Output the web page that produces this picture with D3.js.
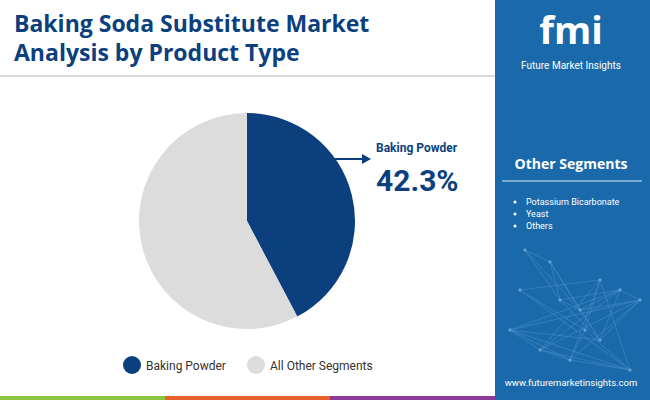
<!DOCTYPE html><html><head><meta charset="utf-8"><script src="https://cdn.jsdelivr.net/npm/d3@7"></script>
<style>body{margin:0}svg{font-family:Roboto,sans-serif}</style></head><body><svg id="c" width="650" height="400"></svg>
<script>
const categories=["Baking Powder","All Other Segments"];
const values=[42.3,57.7];
const colors=["#0b3f7e","#dcdcdc"];
const otherSegments=["Potassium Bicarbonate","Yeast","Others"];
const svg=d3.select("#c");
svg.append("rect").attr("width",650).attr("height",400).attr("fill","#fff");
svg.append("text").attr("x",14).attr("y",32).attr("font-size",23).attr("font-weight",700).attr("fill","#0b3f7e").attr("font-family","'Open Sans',sans-serif").text("Baking Soda Substitute Market");
svg.append("text").attr("x",14).attr("y",61).attr("font-size",23).attr("font-weight",700).attr("fill","#0b3f7e").attr("font-family","'Open Sans',sans-serif").text("Analysis by Product Type");
svg.append("line").attr("x1",0).attr("x2",495).attr("y1",76).attr("y2",76).attr("stroke","#ccc").attr("stroke-width",1.5);
svg.append("rect").attr("x",495).attr("y",0).attr("width",155).attr("height",400).attr("fill","#1a6aab");
const pts=[[525,250],[550,262],[560,300],[580,310],[600,340],[620,290],[640,300],[510,330],[540,350],[570,360],[630,370],[600,280],[585,330],[520,290]];
const net=svg.append("g").attr("stroke","#5b9bd0").attr("stroke-width",0.6).attr("opacity",0.7);
pts.forEach((p,i)=>pts.slice(i+1,i+4).forEach(q=>net.append("line").attr("x1",p[0]).attr("y1",p[1]).attr("x2",q[0]).attr("y2",q[1])));
pts.forEach(p=>net.append("circle").attr("cx",p[0]).attr("cy",p[1]).attr("r",1.5).attr("fill","#8fc0e8"));
svg.append("text").attr("x",571).attr("y",44).attr("text-anchor","middle").attr("font-size",38).attr("font-weight",700).attr("fill","#fff").attr("font-family","'Open Sans',sans-serif").text("fmi");
svg.append("text").attr("x",571).attr("y",69).attr("text-anchor","middle").attr("font-size",10).attr("fill","#fff").text("Future Market Insights");
svg.append("text").attr("x",571).attr("y",169).attr("text-anchor","middle").attr("font-size",14).attr("font-weight",700).attr("fill","#fff").attr("font-family","'Open Sans',sans-serif").text("Other Segments");
svg.append("line").attr("x1",502).attr("x2",642).attr("y1",181).attr("y2",181).attr("stroke","#9cc3e6").attr("stroke-width",1.5);
otherSegments.forEach((s,i)=>{const y=205+i*12;
svg.append("circle").attr("cx",515).attr("cy",y-3).attr("r",1.5).attr("fill","#fff");
svg.append("text").attr("x",526).attr("y",y).attr("font-size",9).attr("fill","#fff").text(s);});
svg.append("text").attr("x",571).attr("y",386).attr("text-anchor","middle").attr("font-size",9.5).attr("fill","#fff").text("www.futuremarketinsights.com");
[["#8cc63f",0],["#e8612c",165],["#8e3a96",330]].forEach(d=>svg.append("rect").attr("x",d[1]).attr("y",396).attr("width",165).attr("height",4).attr("fill",d[0]));
const pie=d3.pie().sort(null)(values);
const arc=d3.arc().innerRadius(0).outerRadius(108);
svg.append("g").attr("transform","translate(247,221)").selectAll("path").data(pie).join("path").attr("d",arc).attr("fill",(d,i)=>colors[i]);
svg.append("line").attr("x1",334).attr("x2",364).attr("y1",159).attr("y2",159).attr("stroke","#0b3f7e").attr("stroke-width",2);
svg.append("path").attr("d","M362,154 L371,159 L362,164Z").attr("fill","#0b3f7e");
svg.append("text").attr("x",376).attr("y",152).attr("font-size",12).attr("font-weight",700).attr("fill","#0b3f7e").text(categories[0]);
svg.append("text").attr("x",376).attr("y",191).attr("font-size",30).attr("font-weight",700).attr("fill","#0b3f7e").text(values[0]+"%");
const lx=[132,256];
categories.forEach((c,i)=>{svg.append("circle").attr("cx",lx[i]).attr("cy",365).attr("r",9).attr("fill",colors[i]);
svg.append("text").attr("x",lx[i]+14).attr("y",369.5).attr("font-size",12).attr("fill","#333").text(c);});
</script></body></html>
